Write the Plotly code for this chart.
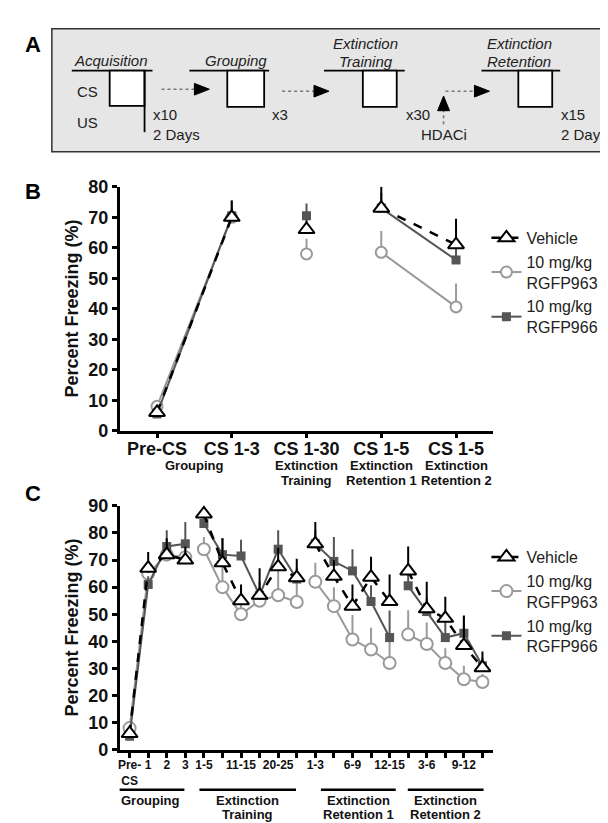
import plotly.graph_objects as go

W, H = 608, 823
FONT = "Liberation Sans"

# ---------------- Data ----------------
# Panel B
b_categories = ["Pre-CS", "CS 1-3", "CS 1-30", "CS 1-5", "CS 1-5"]
b_sublabels = [(0.5, ["Grouping"]), (2, ["Extinction", "Training"]),
               (3, ["Extinction", "Retention 1"]), (4, ["Extinction", "Retention 2"])]
b_segments = [[0, 1], [2], [3, 4]]
b_vehicle = [6, 70, 66, 73, 61]
b_vehicle_err = [1, 5.5, 3, 7, 8.5]
b_963 = [8, 70, 58, 58.5, 40.6]
b_963_err = [1, 3, 5, 7, 7.7]
b_966 = [5.5, 70.5, 70.5, 73, 56]
b_966_err = [1, 5, 4, 5, 6]

# Panel C
c_ticklabels = ["Pre-<br>CS", "1", "2", "3",
                "1-5", "", "11-15", "", "20-25", "",
                "1-3", "", "6-9", "", "12-15",
                "", "3-6", "", "9-12", ""]
c_segments = [list(range(0, 4)), list(range(4, 10)), list(range(10, 15)), list(range(15, 20))]
c_groups = [("Grouping", None, -0.70, 2.95), ("Extinction", "Training", 3.76, 8.96),
            ("Extinction", "Retention 1", 10.3, 14.33), ("Extinction", "Retention 2", 14.98, 19.06)]
c_vehicle = [6, 67, 72, 70, 87, 69, 55, 57, 67.5, 63.5, 76, 64, 53, 63.7, 54.7, 66, 52, 48.5, 38.5, 30.3]
c_vehicle_err = [1, 6, 6, 5, 2, 9, 6, 10, 7, 7, 8, 6, 8, 7.5, 10, 9, 10, 8, 11, 6]
c_963 = [8, 65, 72, 71, 74, 60, 50, 55, 57, 54.5, 62, 53, 40.7, 37, 32, 42.5, 39, 32, 26, 25]
c_963_err = [1, 3, 3, 3, 4.5, 8, 5, 5, 10, 7, 7, 7, 9, 8, 8, 9, 8, 5.5, 5, 3]
c_966 = [5, 61, 75, 76, 83.5, 72, 71.5, 57, 74, 63, 76, 69.5, 66, 54.7, 41.4, 60.5, 51, 41.4, 43, 31]
c_966_err = [1, 3, 6, 8, 2, 6, 6, 5, 7, 4, 5, 9, 8, 6, 10, 4, 5, 7, 6, 3]

series_names = ["Vehicle", "10 mg/kg<br>RGFP963", "10 mg/kg<br>RGFP966"]


def px(x):
    return x / W


def py(y):
    return 1 - y / H


def gapped(vals, errs, segments):
    xs, ys, es = [], [], []
    for k, seg in enumerate(segments):
        if k > 0:
            xs.append(None); ys.append(None); es.append(None)
        for i in seg:
            xs.append(i); ys.append(vals[i]); es.append(errs[i])
    return xs, ys, es


styles = {
    "963": dict(line=dict(color="#9a9a9a", width=2),
                marker=dict(symbol="circle", color="white", line=dict(color="#9a9a9a", width=2))),
    "966": dict(line=dict(color="#555555", width=2),
                marker=dict(symbol="square", color="#555555", line=dict(color="#555555", width=0))),
    "veh": dict(line=dict(color="black", width=2.5, dash="dash"),
                marker=dict(symbol="triangle-up", color="white", line=dict(color="black", width=2))),
}
ecol = {"963": "#9a9a9a", "966": "#555555", "veh": "black"}
rank = {"veh": 1, "963": 2, "966": 3}
names = {"veh": series_names[0], "963": series_names[1], "966": series_names[2]}

fig = go.Figure()


def add_panel(data, segments, xa, ya, legend, sizes):
    for key in ["963", "966", "veh"]:
        vals, errs = data[key]
        xs, ys, es = gapped(vals, errs, segments)
        st = styles[key]
        mk = dict(st["marker"]); mk["size"] = sizes[key]
        fig.add_trace(go.Scatter(
            x=xs, y=ys, mode="lines+markers", name=names[key],
            line=st["line"], marker=mk, connectgaps=False, cliponaxis=False,
            xaxis=xa, yaxis=ya, legend=legend, legendrank=rank[key],
            error_y=dict(type="data", symmetric=False, array=es, arrayminus=[0] * len(es),
                         color=ecol[key], thickness=2, width=0),
        ))


add_panel({"veh": (b_vehicle, b_vehicle_err), "963": (b_963, b_963_err), "966": (b_966, b_966_err)},
          b_segments, "x", "y", "legend", {"veh": 14, "963": 11, "966": 9})
add_panel({"veh": (c_vehicle, c_vehicle_err), "963": (c_963, c_963_err), "966": (c_966, c_966_err)},
          c_segments, "x2", "y2", "legend2", {"veh": 14, "963": 12, "966": 9})

axis_common = dict(showline=True, linecolor="black", linewidth=2.5, ticks="outside",
                   ticklen=5, tickwidth=2.5, tickcolor="black", showgrid=False, zeroline=False)
big = dict(family=FONT, size=18, color="#111", weight="bold")
legfont = dict(family=FONT, size=16, color="#222")

fig.update_layout(
    width=W, height=H, margin=dict(l=0, r=0, t=0, b=0),
    paper_bgcolor="white", plot_bgcolor="white",
    font=dict(family=FONT, color="#111"),
    xaxis=dict(domain=[px(110), px(485)], range=[-0.5, 4.5], anchor="y",
               tickvals=list(range(len(b_categories))), ticktext=b_categories,
               tickfont=big, ticklabelstandoff=-5, **axis_common),
    yaxis=dict(domain=[py(423), py(173)], range=[0, 80], dtick=10, anchor="x",
               tickfont=big, **axis_common),
    xaxis2=dict(domain=[px(110), px(485)], range=[-0.537, 19.59], anchor="y2",
                tickvals=list(range(len(c_ticklabels))), ticktext=c_ticklabels,
                tickfont=dict(family=FONT, size=12, color="#111", weight="bold"),
                ticklabelstandoff=-3, **axis_common),
    yaxis2=dict(domain=[py(750), py(500)], range=[0, 90], dtick=10, anchor="x2",
                tickfont=big, **axis_common),
    legend=dict(x=px(478), y=py(208), xanchor="left", yanchor="top", bgcolor="rgba(0,0,0,0)",
                font=legfont, tracegroupgap=0, itemwidth=30, traceorder="normal"),
    legend2=dict(x=px(478), y=py(535), xanchor="left", yanchor="top", bgcolor="rgba(0,0,0,0)",
                 font=legfont, tracegroupgap=0, itemwidth=30, traceorder="normal"),
)

ann = []
shapes = []


def note(x, y, text, font, xref="paper", yref="paper", xanchor="center", textangle=0):
    ann.append(dict(x=x, y=y, xref=xref, yref=yref, text=text, showarrow=False, font=font,
                    xanchor=xanchor, yanchor="middle", textangle=textangle))


# Panel letters
for letter, yy in [("A", 27), ("B", 178), ("C", 487)]:
    note(px(23), py(yy), letter, dict(family=FONT, size=22, color="black", weight="bold"))

# Y-axis titles
for yy in [298, 625]:
    note(px(62), py(yy), "Percent Freezing (%)",
         dict(family=FONT, size=18, color="#111", weight="bold"), textangle=-90)

# Panel B sublabels
sub = dict(family=FONT, size=13, color="#111", weight="bold")
for xv, lines in b_sublabels:
    for j, t in enumerate(lines):
        note(xv, py(459 + 15 * j), t, sub, xref="x")

# Significance bar
shapes.append(dict(type="line", x0=2.93, x1=4.07, y0=82.9, y1=82.9, xref="x", yref="y",
                   line=dict(color="black", width=2)))
note(3.5, 86.0, "*", dict(family=FONT, size=14, color="black"), xref="x", yref="y")

# Panel C group labels
for l1, l2, x0, x1 in c_groups:
    shapes.append(dict(type="line", x0=x0, x1=x1, y0=py(791), y1=py(791), xref="x2", yref="paper",
                       line=dict(color="black", width=2.5)))
    xm = (x0 + x1) / 2
    note(xm, py(801.5), l1, sub, xref="x2")
    if l2:
        note(xm, py(816.5), l2, sub, xref="x2")

# ---------------- Panel A diagram ----------------
shapes.append(dict(type="rect", x0=px(42), x1=px(605), y0=py(137), y1=py(11), xref="paper", yref="paper",
                   fillcolor="#e6e6e6", line=dict(color="#333", width=1.5), layer="below"))


def pline(x0, y0, x1, y1, color="black", width=1.8, dash="solid"):
    shapes.append(dict(type="line", x0=px(x0), x1=px(x1), y0=py(y0), y1=py(y1), xref="paper",
                       yref="paper", line=dict(color=color, width=width, dash=dash)))


def psq(x0, x1, y0, y1):
    shapes.append(dict(type="rect", x0=px(x0), x1=px(x1), y0=py(y1), y1=py(y0), xref="paper",
                       yref="paper", fillcolor="white", line=dict(color="black", width=1.8)))


def ptext(x, y, t, size=15, anchor="center", italic=False):
    if italic:
        t = "<i>" + t + "</i>"
    note(px(x), py(y), t, dict(family=FONT, size=size, color="#222"), xanchor=anchor)


def harrow(x0, x1, y):
    pline(x0, y, x1 - 13, y, color="#777", width=1.6, dash="dot")
    path = "M {} {} L {} {} L {} {} Z".format(px(x1 - 15), py(y - 6), px(x1), py(y), px(x1 - 15), py(y + 6))
    shapes.append(dict(type="path", path=path, xref="paper", yref="paper", fillcolor="black",
                       line=dict(color="black", width=1)))


# Acquisition
pline(62, 54, 143, 54)
psq(100, 135, 54, 90)
pline(135, 54, 135, 117)
ptext(101, 44, "Acquisition", italic=True)
ptext(65, 75, "CS", anchor="left")
ptext(65, 107, "US", anchor="left")
ptext(141, 99, "x10", anchor="left")
ptext(141, 119, "2 Days", anchor="left")
harrow(152, 200, 73)
# Grouping
pline(180, 54, 260, 54)
psq(218, 255, 54, 91)
ptext(227, 44, "Grouping", italic=True)
ptext(261, 99, "x3", anchor="left")
harrow(273, 320, 75)
# Extinction training
pline(315, 54, 396, 54)
psq(354, 388, 54, 91)
ptext(357, 26, "Extinction", italic=True)
ptext(357, 45, "Training", italic=True)
ptext(395, 99, "x30", anchor="left")
# HDACi arrow
pline(435, 109, 435, 93, color="#777", width=1.6, dash="dot")
path = "M {} {} L {} {} L {} {} Z".format(px(429), py(95), px(435), py(80), px(441), py(95))
shapes.append(dict(type="path", path=path, xref="paper", yref="paper", fillcolor="black",
                   line=dict(color="black", width=1)))
ptext(435, 119, "HDACi")
harrow(437, 481, 75)
# Extinction retention
pline(473, 54, 552, 54)
psq(510, 544, 54, 91)
ptext(511, 26, "Extinction", italic=True)
ptext(511, 45, "Retention", italic=True)
ptext(551, 99, "x15", anchor="left")
ptext(551, 119, "2 Days", anchor="left")

fig.update_layout(annotations=ann, shapes=shapes)
fig.write_html("out.html")
